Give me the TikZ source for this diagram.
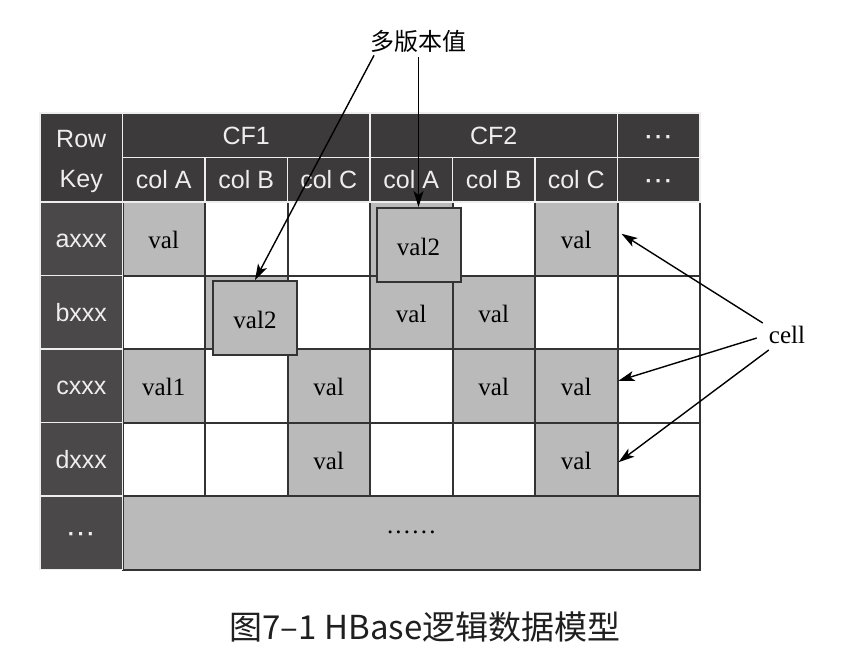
\documentclass[tikz,border=0pt]{standalone}
\usepackage{fontspec}
\setmainfont{Liberation Serif}
\setsansfont{Liberation Sans}
\newfontfamily\cjk{Noto Sans CJK SC}
\usetikzlibrary{arrows.meta,calc}
\definecolor{hdr}{HTML}{3C3A3B}
\definecolor{rk}{HTML}{4A4849}
\definecolor{gfill}{HTML}{BABABA}
\definecolor{gridc}{HTML}{333333}
\definecolor{sep}{HTML}{EEEEEE}
\tikzset{
  hcell/.style={fill=hdr, draw=sep, line width=1.5pt, text=sep, inner sep=0pt,
    font=\sffamily\fontsize{25}{25}\selectfont, text height=18pt, text depth=0pt,
    minimum height=44.5pt},
  rkcell/.style={fill=rk, draw=sep, line width=1.5pt, text=sep, inner sep=0pt,
    font=\sffamily\fontsize{25}{25}\selectfont, text height=18pt, text depth=0pt,
    minimum width=82.5pt, minimum height=73.5pt},
  dcell/.style={fill=white, draw=gridc, line width=2pt, inner sep=0pt,
    font=\fontsize{25}{25}\selectfont, text height=20pt, text depth=0pt,
    minimum width=82.5pt, minimum height=73.5pt},
  gcell/.style={dcell, fill=gfill},
  vbox/.style={fill=gfill, draw=gridc, line width=2pt, inner sep=0pt,
    font=\fontsize{25}{25}\selectfont, text height=20pt, text depth=0pt,
    minimum width=84pt, minimum height=74pt},
  arr/.style={-{Stealth[length=16pt,width=10pt,inset=4pt]}, line width=1.4pt, black}
}
\newcommand{\mydots}{{\bfseries\fontsize{22}{22}\selectfont\textperiodcentered\hspace{2.5pt}\textperiodcentered\hspace{2.5pt}\textperiodcentered}}
\newcommand{\sixdots}{.\hspace{2.2pt}.\hspace{2.2pt}.\hspace{2.2pt}.\hspace{2.2pt}.\hspace{2.2pt}.}
\begin{document}
\begin{tikzpicture}[x=1pt,y=-1pt]
\useasboundingbox[fill=white] (0,0) rectangle (856,646);
% data cells, white
\foreach \r/\y in {1/238.75,2/312.25,3/385.75,4/459.25}
  \foreach \c/\x in {1/163.75,2/246.25,3/328.75,4/411.25,5/493.75,6/576.25,7/658.75}
    \node[dcell] (d\r\c) at (\x,\y) {};
% gray cells
\node[gcell] (g11) at (163.75,238.75) {val};
\node[gcell] (g14) at (411.25,238.75) {};
\node[gcell] (g16) at (576.25,238.75) {val};
\node[gcell] (g22) at (246.25,312.25) {};
\node[gcell] (g24) at (411.25,312.25) {val};
\node[gcell] (g25) at (493.75,312.25) {val};
\node[gcell] (g31) at (163.75,385.75) {val1};
\node[gcell] (g33) at (328.75,385.75) {val};
\node[gcell] (g35) at (493.75,385.75) {val};
\node[gcell] (g36) at (576.25,385.75) {val};
\node[gcell] (g43) at (328.75,459.25) {val};
\node[gcell] (g46) at (576.25,459.25) {val};
\node[gcell, minimum width=577.5pt, text height=2pt] (g5) at (411.25,532.75) {\sixdots};
% header
\node[hcell, minimum width=82.5pt, minimum height=89pt] (rowkey) at (81.25,157.5) {};
\node[inner sep=0pt, text=sep, align=center, font=\sffamily\fontsize{25}{39.5}\selectfont] (rowkeyt) at (81.25,161.4) {Row\\Key};
\node[hcell, minimum width=247.5pt] (cf1) at (246.25,135.25) {CF1};
\node[hcell, minimum width=247.5pt] (cf2) at (493.75,135.25) {CF2};
\node[hcell, minimum width=82.5pt] (cfd) at (658.75,135.25) {\mydots};
\foreach \n/\x/\t in {h1/163.75/col A,h2/246.25/col B,h3/328.75/col C,h4/411.25/col A,h5/493.75/col B,h6/576.25/col C,h7/658.75/\mydots}
  \node[hcell, minimum width=82.5pt] (\n) at (\x,179.75) {\t};
% row keys
\node[rkcell] (ra) at (81.25,238.75) {axxx};
\node[rkcell] (rb) at (81.25,312.25) {bxxx};
\node[rkcell] (rc) at (81.25,385.75) {cxxx};
\node[rkcell] (rd) at (81.25,459.25) {dxxx};
\node[rkcell] (re) at (81.25,532.75) {\mydots};
% version boxes
\node[vbox] (vb1) at (255,318) {val2};
\node[vbox] (vb2) at (418.5,245) {val2};
% labels
\node[inner sep=0pt, font=\cjk\fontsize{24}{24}\selectfont] (mv) at (418,41) {多版本值};
\node[inner sep=0pt, font=\fontsize{25}{25}\selectfont, text height=20pt, text depth=0pt] (cl) at (787,333) {cell};
% arrows
\draw[arr] ($(mv.south)+(-44,3)$) -- (vb1.north);
\draw[arr] ($(mv.south -| vb2.north)+(0,5)$) -- (vb2.north);
\draw[arr] ($(cl.west)+(-6,-10)$) -- ($(d17.west)+(5,-5)$);
\draw[arr] ($(cl.west)+(-12,5)$) -- ($(d37.west)+(2,-5)$);
\draw[arr] ($(cl.west)+(0,17)$) -- ($(d47.west)+(2,3)$);
% caption
\node[inner sep=0pt, font=\cjk\fontsize{33}{33}\selectfont, text=black!88] (cap) at (425,627) {图7–1 HBase逻辑数据模型};
\end{tikzpicture}
\end{document}
